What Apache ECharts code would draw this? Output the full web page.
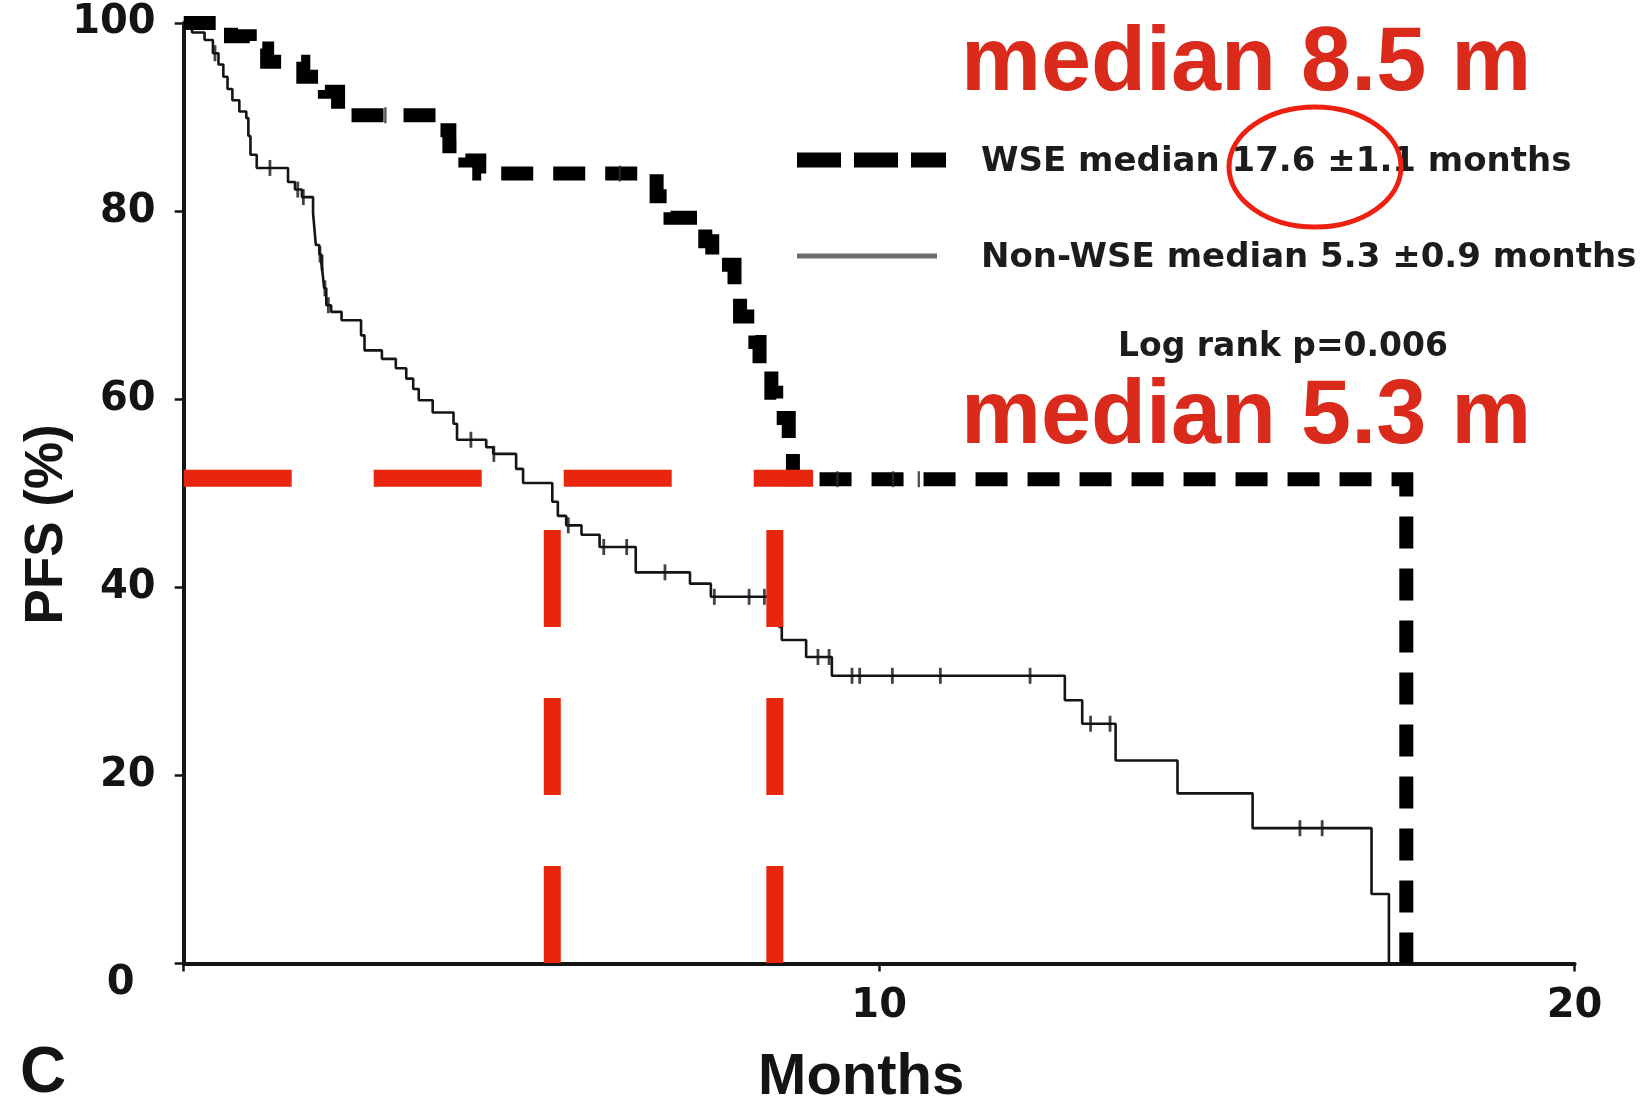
<!DOCTYPE html>
<html>
<head>
<meta charset="utf-8">
<script src="https://cdn.jsdelivr.net/npm/echarts@6/dist/echarts.min.js"></script>
<style>
  html, body { margin: 0; padding: 0; background: #ffffff; }
  #chart { width: 1646px; height: 1103px; }
</style>
</head>
<body>
<div id="chart"></div>
<script>
// Kaplan–Meier progression-free survival: WSE vs non-WSE patients

const yTicks = [0, 20, 40, 60, 80, 100];
const xTicks = [0, 10, 20];

// WSE group: [month, PFS %] at each event, curve held until the next event
const wseSteps = [
  [0, 100], [0.68, 98.6], [0.95, 97.3], [1.2, 95.9], [1.72, 94.3], [2.03, 92.7],
  [2.22, 90.2], [3.52, 88.6], [3.82, 86.9], [4.05, 85.4], [4.25, 84.0],
  [6.8, 81.6], [7.0, 79.3], [7.5, 76.8], [7.6, 74.3], [7.92, 71.5], [8.0, 68.8],
  [8.22, 66.1], [8.28, 63.4], [8.45, 60.7], [8.52, 58.0], [8.7, 54.8],
  [8.76, 51.5], [17.58, 0]
];
const wseCensored = [[2.9, 90.2], [6.27, 84.0], [9.4, 51.5], [10.2, 51.5], [10.57, 51.5]];

// Non-WSE group
const nonWseSteps = [
  [0, 100], [0.12, 99.0], [0.3, 98.2], [0.42, 96.8], [0.5, 95.6], [0.57, 94.3],
  [0.63, 93.0], [0.7, 91.8], [0.8, 90.6], [0.9, 89.9], [0.93, 88.0], [0.96, 86.0],
  [1.05, 84.6], [1.5, 83.1], [1.6, 82.3], [1.7, 81.5], [1.86, 79.8], [1.88, 78.1],
  [1.9, 76.4], [1.95, 75.4], [1.98, 74.5], [2.0, 73.2], [2.02, 71.8], [2.05, 70.0],
  [2.12, 69.3], [2.27, 68.4], [2.55, 66.8], [2.6, 65.2], [2.85, 64.3], [3.05, 63.3],
  [3.2, 62.2], [3.3, 61.1], [3.38, 59.9], [3.58, 58.6], [3.88, 57.4], [3.93, 55.7],
  [4.35, 54.9], [4.45, 54.2], [4.78, 52.6], [4.88, 51.1], [5.3, 49.1], [5.38, 47.6],
  [5.5, 46.6], [5.72, 45.6], [5.98, 44.3], [6.5, 41.6], [7.28, 40.4], [7.58, 39.0],
  [8.46, 36.5], [8.6, 34.4], [8.95, 32.6], [9.32, 30.6], [12.67, 28.0], [12.92, 25.5],
  [13.4, 21.6], [14.29, 18.1], [15.37, 14.4], [17.08, 7.4], [17.33, 0]
];
const nonWseCensored = [
  [0.45, 96.8], [1.24, 84.6], [1.64, 82.3], [1.72, 81.5], [1.96, 75.4], [1.99, 74.5],
  [2.03, 71.8], [2.08, 70.0], [4.13, 55.7], [4.46, 54.2], [5.53, 46.6], [6.04, 44.3],
  [6.37, 44.3], [6.92, 41.6], [7.63, 39.0], [8.13, 39.0], [8.35, 39.0], [8.57, 36.5],
  [9.12, 32.6], [9.28, 32.6], [9.61, 30.6], [9.72, 30.6], [10.19, 30.6], [10.88, 30.6],
  [12.17, 30.6], [13.04, 25.5], [13.32, 25.5], [16.05, 14.4], [16.37, 14.4]
];

// Red median guides
const medianLevel = 51.6;      // horizontal guide (PFS %)
const medianGuideEnd = 9.05;   // month where the horizontal guide stops
const medianGuideTop = 46.1;   // vertical guides run from here down to 0
const medianNonWse = 5.3;
const medianWse = 8.5;

const legendWse = 'WSE median 17.6 \u00b11.1 months';
const legendNonWse = 'Non-WSE median 5.3 \u00b10.9 months';
const logRankText = 'Log rank p=0.006';
const panelLabel = 'C';

const RED = '#e8260f';
const TEXT_RED = '#d92a1c';
const INK = '#141414';

const chart = echarts.init(document.getElementById('chart'), null, { renderer: 'canvas' });

const tickFont = { fontFamily: 'DejaVu Sans', fontWeight: 'bold', fontSize: 40, color: INK };

const option = {
  animation: false,
  backgroundColor: '#ffffff',
  grid: {
    left: 183.7, right: 71.4, top: 23.1, bottom: 139.4,
    containLabel: false, outerBoundsMode: 'none'
  },
  xAxis: {
    type: 'value',
    min: xTicks[0],
    max: xTicks[xTicks.length - 1],
    interval: xTicks[1] - xTicks[0],
    splitLine: { show: false },
    axisLine: { show: true, lineStyle: { color: INK, width: 4 } },
    axisTick: { show: true, length: 8, lineStyle: { color: INK, width: 2.5 } },
    axisLabel: Object.assign({
      margin: 23,
      formatter: v => (v === 0 ? '' : String(v))
    }, tickFont),
    name: 'Months',
    nameLocation: 'middle',
    nameGap: 85,
    nameTextStyle: {
      fontFamily: 'Liberation Sans', fontWeight: 'bold', fontSize: 58, color: INK,
      padding: [0, 36, 0, 0]
    }
  },
  yAxis: {
    type: 'value',
    min: yTicks[0],
    max: yTicks[yTicks.length - 1],
    interval: yTicks[1] - yTicks[0],
    splitLine: { show: false },
    axisLine: { show: true, lineStyle: { color: INK, width: 4 } },
    axisTick: { show: true, length: 9, lineStyle: { color: INK, width: 2.5 } },
    axisLabel: Object.assign({
      margin: 28,
      formatter: v => (v === 0 ? '{zero|0}' : String(v)),
      rich: {
        zero: Object.assign({ padding: [40, 21, 0, 0] }, tickFont)
      }
    }, tickFont),
    name: 'PFS (%)',
    nameLocation: 'middle',
    nameMoveOverlap: false,
    nameGap: 110,
    nameTextStyle: {
      fontFamily: 'Liberation Sans', fontWeight: 'bold', fontSize: 53, color: INK,
      padding: [0, 62, 0, 0]
    }
  },
  series: [
    {
      name: 'Non-WSE',
      type: 'line',
      step: 'end',
      data: nonWseSteps,
      symbol: 'none',
      clip: false,
      z: 3,
      lineStyle: { color: INK, width: 2.6 }
    },
    {
      name: 'Non-WSE censored',
      type: 'scatter',
      data: nonWseCensored,
      symbol: 'rect',
      symbolSize: [2.8, 16],
      clip: false,
      z: 4,
      itemStyle: { color: INK }
    },
    {
      name: 'WSE',
      type: 'line',
      step: 'end',
      data: wseSteps,
      symbol: 'none',
      clip: false,
      z: 5,
      lineStyle: { color: '#000000', width: 14, type: [32, 20], cap: 'butt', join: 'miter' }
    },
    {
      name: 'WSE censored',
      type: 'scatter',
      data: wseCensored,
      symbol: 'rect',
      symbolSize: [2.4, 16],
      clip: false,
      z: 6,
      itemStyle: { color: '#2a2a2a' }
    },
    {
      name: 'Median level',
      type: 'line',
      data: [[0, medianLevel], [medianGuideEnd, medianLevel]],
      symbol: 'none',
      clip: false,
      z: 10,
      lineStyle: { color: RED, width: 17, type: [108, 82], cap: 'butt' }
    },
    {
      name: 'Median non-WSE',
      type: 'line',
      data: [[medianNonWse, medianGuideTop], [medianNonWse, 0]],
      symbol: 'none',
      clip: false,
      z: 10,
      lineStyle: { color: RED, width: 17, type: [97, 71], cap: 'butt' }
    },
    {
      name: 'Median WSE',
      type: 'line',
      data: [[medianWse, medianGuideTop], [medianWse, 0]],
      symbol: 'none',
      clip: false,
      z: 10,
      lineStyle: { color: RED, width: 17, type: [97, 71], cap: 'butt' }
    }
  ],
  graphic: [
    {
      type: 'text', x: 961, y: 65, z: 20,
      style: {
        text: 'median ' + medianWse + ' m', fill: TEXT_RED,
        font: 'bold 90px "Liberation Sans", Arial, sans-serif',
        textAlign: 'left', textVerticalAlign: 'middle', verticalAlign: 'middle'
      }
    },
    {
      type: 'text', x: 961, y: 418, z: 20,
      style: {
        text: 'median ' + medianNonWse + ' m', fill: TEXT_RED,
        font: 'bold 90px "Liberation Sans", Arial, sans-serif',
        textAlign: 'left', textVerticalAlign: 'middle', verticalAlign: 'middle'
      }
    },
    {
      type: 'line', z: 20,
      shape: { x1: 797, y1: 160, x2: 946, y2: 160 },
      style: { stroke: '#000000', lineWidth: 15, lineDash: [44, 13], lineCap: 'butt' }
    },
    {
      type: 'line', z: 20,
      shape: { x1: 797, y1: 256, x2: 937, y2: 256 },
      style: { stroke: '#6e6e6e', lineWidth: 5 }
    },
    {
      type: 'text', x: 981, y: 162, z: 20,
      style: {
        text: legendWse, fill: '#1c1c1c',
        font: 'bold 34px "DejaVu Sans", sans-serif',
        textAlign: 'left', textVerticalAlign: 'middle', verticalAlign: 'middle'
      }
    },
    {
      type: 'text', x: 981, y: 258, z: 20,
      style: {
        text: legendNonWse, fill: '#1c1c1c',
        font: 'bold 34px "DejaVu Sans", sans-serif',
        textAlign: 'left', textVerticalAlign: 'middle', verticalAlign: 'middle'
      }
    },
    {
      type: 'text', x: 1283, y: 347, z: 20,
      style: {
        text: logRankText, fill: '#1c1c1c',
        font: 'bold 33px "DejaVu Sans", sans-serif',
        textAlign: 'center', align: 'center', textVerticalAlign: 'middle', verticalAlign: 'middle'
      }
    },
    {
      type: 'ellipse', z: 25,
      shape: { cx: 1315, cy: 167, rx: 86, ry: 60 },
      style: { fill: 'none', stroke: '#ee2010', lineWidth: 5 }
    },
    {
      type: 'text', x: 20, y: 1074, z: 20,
      style: {
        text: panelLabel, fill: INK,
        font: 'bold 64px "Liberation Sans", Arial, sans-serif',
        textAlign: 'left', textVerticalAlign: 'middle', verticalAlign: 'middle'
      }
    }
  ]
};

chart.setOption(option);
</script>
</body>
</html>
